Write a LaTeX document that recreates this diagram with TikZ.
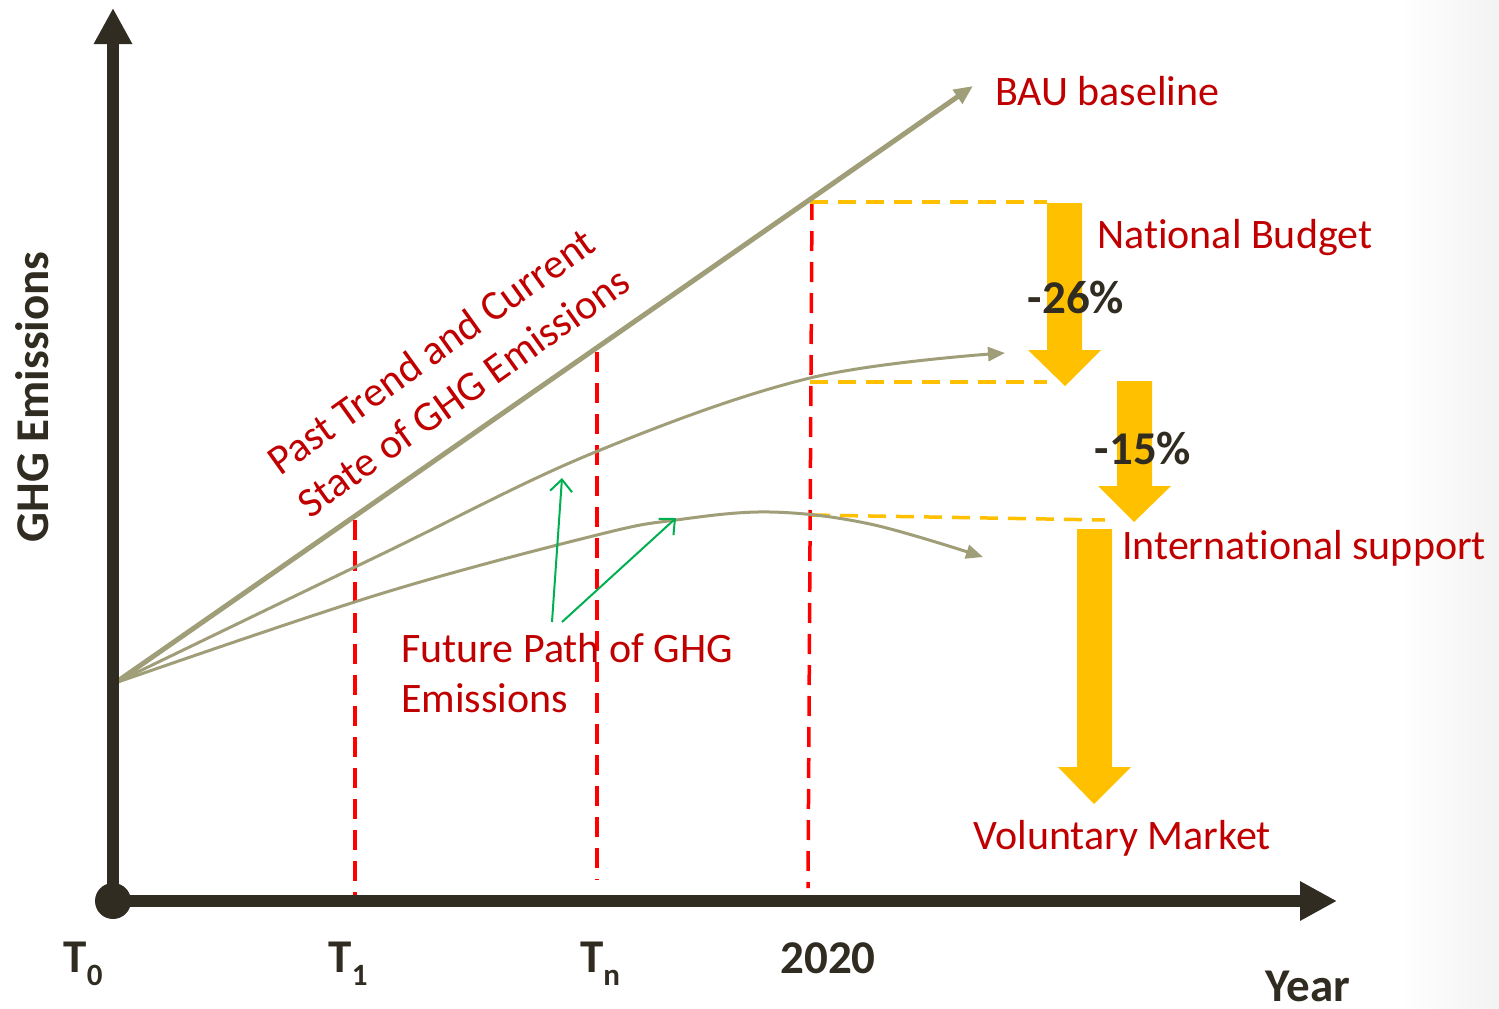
\documentclass[tikz,border=0pt]{standalone}
\usepackage{fontspec}
\setmainfont[RawFeature={-liga;-clig;-dlig}]{Carlito}
\usetikzlibrary{arrows.meta}
\definecolor{dk}{HTML}{312C21}
\definecolor{rd}{HTML}{C00000}
\definecolor{ol}{HTML}{A09E78}
\definecolor{yl}{HTML}{FFC000}
\definecolor{gr}{HTML}{00B050}
\definecolor{dred}{HTML}{FF0000}
\newcommand{\sbx}[1]{\raisebox{-0.28em}{\fontsize{31}{31}\selectfont #1}}
\begin{document}
\begin{tikzpicture}[x=1pt,y=-1pt,
  axis/.style={line width=12pt, dk},
  redlbl/.style={inner sep=0pt, text=rd, font=\fontsize{42}{50}\selectfont},
  boldlbl/.style={inner sep=0pt, text=dk, font=\fontsize{47}{56}\selectfont\bfseries},
  rdash/.style={dred, line width=3.5pt, dash pattern=on 20pt off 11pt},
  ydash/.style={yl, line width=3.5pt, dash pattern=on 18pt off 10pt},
  path1/.style={ol, line width=3pt, -{Triangle[length=17pt,width=14pt]}},
  garrow/.style={gr, line width=2pt, -{Straight Barb[length=12pt,width=22pt]}},
  yarrow/.style={fill=yl, draw=none}]
\useasboundingbox (0,0) rectangle (1499,1009);
\shade[left color=white, right color=black!5, draw=none] (1400,0) rectangle (1499,1009);

% coordinates
\coordinate (O) at (113,901);
\coordinate (ytip) at (113,8);
\coordinate (xtip) at (1337,901);
\coordinate (S) at (115,683);
\coordinate (bau) at (973,86);

% red dashed verticals
\coordinate (t1a) at (355,520); \coordinate (t1b) at (355,900);
\coordinate (tna) at (597,352); \coordinate (tnb) at (597,880);
\coordinate (t2a) at (812,200); \coordinate (t2b) at (808,888);
\draw[rdash] (t1a) -- (t1b);
\draw[rdash] (tna) -- (tnb);
\draw[rdash] (t2a) -- (t2b);

% yellow dashed
\coordinate (y1a) at (810,202); \coordinate (y1b) at (1047,202);
\coordinate (y2a) at (810,382); \coordinate (y2b) at (1047,382);
\coordinate (y3a) at (812,515); \coordinate (y3b) at (1105,520);
\draw[ydash] (y1a) -- (y1b);
\draw[ydash] (y2a) -- (y2b);
\draw[ydash] (y3a) -- (y3b);

% olive paths
\draw[ol, line width=5pt, -{Triangle[length=19pt,width=16pt]}] (S) -- (bau);
\draw[path1] plot[smooth, tension=0.6] coordinates {(115,683) (380,555) (593,453) (810,378) (1005,353)};
\draw[path1] plot[smooth, tension=0.6] coordinates {(115,683) (380,594) (597,535) (676,520) (770,512) (870,524) (983,557)};

% axes
\draw[axis, -{Triangle[length=36pt,width=36pt]}] (O) -- (ytip);
\draw[axis, -{Triangle[length=37pt,width=37pt]}] (O) -- (xtip);
\fill[dk] (O) circle (18pt);

% yellow arrows
\fill[yarrow] (1047,203) -- (1082,203) -- (1082,350) -- (1101,350) -- (1065,386) -- (1028,350) -- (1047,350) -- cycle;
\fill[yarrow] (1117,381) -- (1152,381) -- (1152,486) -- (1171,486) -- (1134,522) -- (1098,486) -- (1117,486) -- cycle;
\fill[yarrow] (1077,529) -- (1112,529) -- (1112,767) -- (1131,767) -- (1094,804) -- (1058,767) -- (1077,767) -- cycle;

% labels
\node[redlbl, anchor=west] (lbau) at (995,91) {BAU baseline};
\node[redlbl, anchor=west] (lnat) at (1097,238) {Nat\kern0pt ional Budget};
\node[redlbl, anchor=west] (lint) at (1122,548) {Internat\kern0pt ional support};
\node[redlbl, anchor=west] (lvol) at (973,838) {Voluntary Market};
\node[redlbl, anchor=west, align=left] (lfut) at (401,673) {Future Path of GHG\\Emissions};
\node[redlbl, rotate=35.6] (lpast1) at (431,351) {Past Trend and Current};
\node[redlbl, rotate=35.6] (lpast2) at (463,392) {State of GHG Emissions};

\node[boldlbl] (p26) at (1076,297) {-26\%};
\node[boldlbl] (p15) at (1143,448) {-15\%};
\node[boldlbl, rotate=90] (lghg) at (32,397) {GHG Emissions};
\node[boldlbl] (lt0) at (83,964) {T\sbx{0}};
\node[boldlbl] (lt1) at (348,964) {T\sbx{1}};
\node[boldlbl] (ltn) at (600,964) {T\sbx{n}};
\node[boldlbl] (l2020) at (828,958) {2020};
\node[boldlbl] (lyear) at (1308,986) {Year};

% green arrows
\coordinate (g1s) at (552,622); \coordinate (g1e) at (562,478);
\coordinate (g2s) at (562,622); \coordinate (g2e) at (676,518);
\draw[garrow] (g1s) -- (g1e);
\draw[garrow] (g2s) -- (g2e);
\end{tikzpicture}
\end{document}
